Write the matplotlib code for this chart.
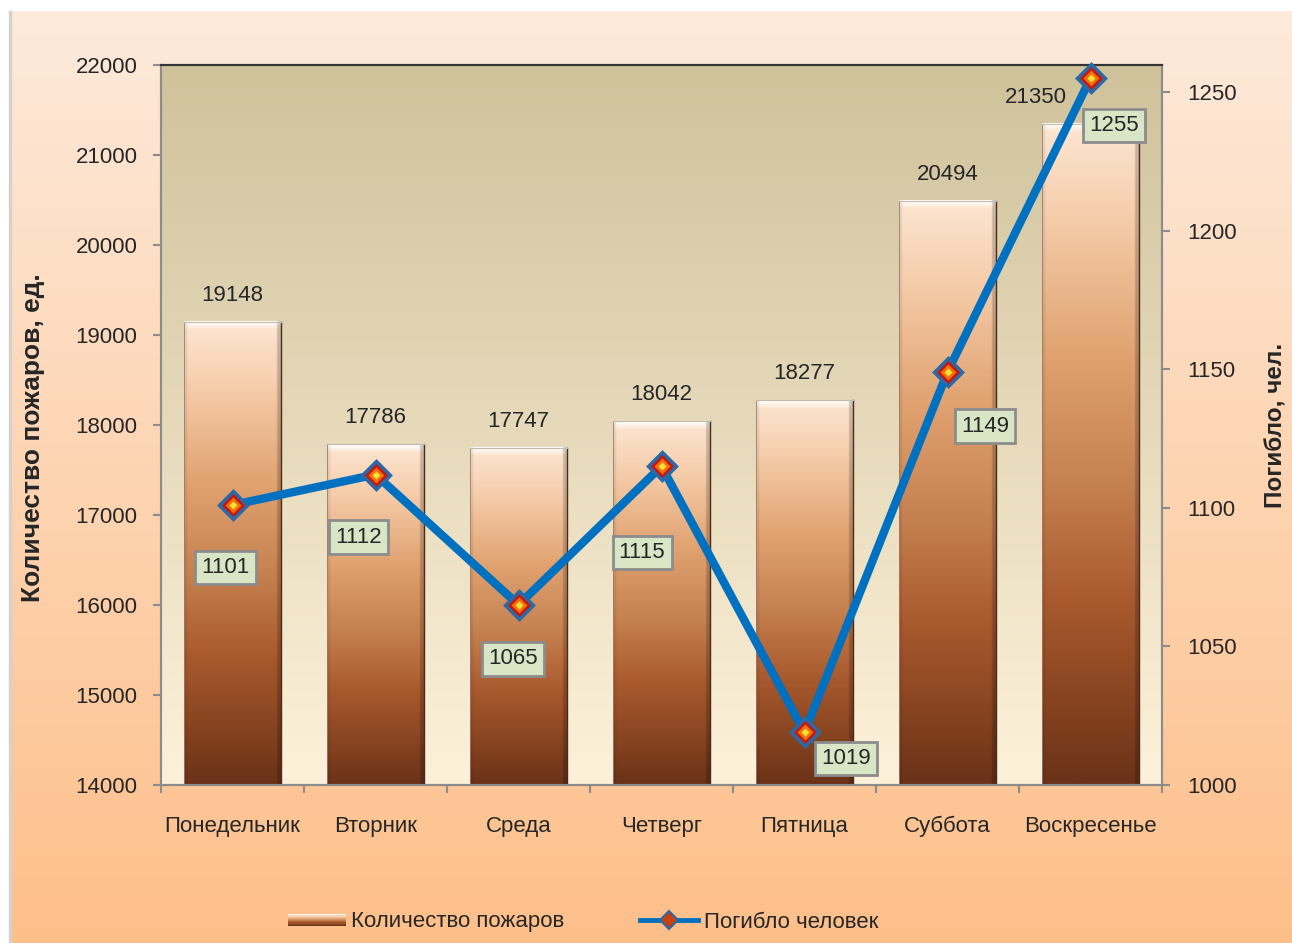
import numpy as np
import matplotlib
matplotlib.use("Agg")
import matplotlib.pyplot as plt
from matplotlib.colors import LinearSegmentedColormap, to_rgb
from matplotlib.patches import Rectangle
from matplotlib.lines import Line2D

plt.rcParams['font.family'] = ['Liberation Sans', 'DejaVu Sans']

days = ['Понедельник', 'Вторник', 'Среда', 'Четверг', 'Пятница', 'Суббота', 'Воскресенье']
fires = [19148, 17786, 17747, 18042, 18277, 20494, 21350]
deaths = [1101, 1112, 1065, 1115, 1019, 1149, 1255]

# label offsets (points) for the death labels
death_offsets = [(-5, -45), (-12, -45), (-4, -39), (-14, -62), (30, -19), (27, -39), (17, -34)]

TXT = '#262626'
BLUE = '#0070c0'
GREY = '#8c8c8c'
FS = 16

bar_cmap = LinearSegmentedColormap.from_list(
    'bar', [(0.0, '#fde6d2'), (0.15, '#f5cba8'), (0.35, '#e0a270'), (0.55, '#c5804f'),
            (0.72, '#a95a2e'), (0.88, '#864320'), (1.0, '#6a3218')])

fig = plt.figure(figsize=(12.92, 9.43), dpi=100)
fig.patch.set_facecolor('white')

# outer background gradient
bg = fig.add_axes([11 / 1292, 0, 1 - 11 / 1292, 1 - 11 / 943], zorder=-10)
g = np.linspace(0, 1, 256)[:, None]
c_top, c_bot = np.array(to_rgb('#feeadb')), np.array(to_rgb('#fdbf8a'))
bg.imshow(c_top + (c_bot - c_top) * g[:, :, None], aspect='auto', extent=[0, 1, 0, 1])
bg.axis('off')
fig.add_artist(Rectangle((9 / 1292, 0), 2 / 1292, 1 - 11 / 943, transform=fig.transFigure,
                         color='#d8d0cc', zorder=-9))

ax = fig.add_axes([161 / 1292, 1 - 785 / 943, 1001 / 1292, 720 / 943])
ax2 = ax.twinx()
ax.set_zorder(1)
ax2.set_zorder(2)
ax.patch.set_visible(False)
ax2.patch.set_visible(False)

# plot area gradient
p_top, p_bot = np.array(to_rgb('#cfc29b')), np.array(to_rgb('#fdf1da'))
ax.imshow(p_top + (p_bot - p_top) * g[:, :, None], aspect='auto', extent=[0, 1, 0, 1],
          transform=ax.transAxes, zorder=0)

ymin, ymax = 14000, 22000
x = np.arange(len(days))
bw = 0.685
for i, v in enumerate(fires):
    rows = int((v - ymin) / 10)
    frac = np.linspace(0, 1, rows)
    img = bar_cmap(frac)[:, None, :3].repeat(60, axis=1)
    # top bevel highlight
    hl = np.clip(1 - np.arange(rows) / 9.0, 0, 1)[:, None, None]
    img = img * (1 - hl) + np.array([1, 1, 1]) * hl
    # horizontal shading (darker edges)
    cols = np.linspace(0, 1, 60)
    shade = np.ones(60)
    shade[cols > 0.95] = 0.8
    shade[cols < 0.03] = 0.93
    img = np.clip(img * shade[None, :, None], 0, 1)
    ax.imshow(img, aspect='auto', extent=[i - bw / 2, i + bw / 2, ymin, v],
              interpolation='bilinear', zorder=2)
    ax.plot([i + bw / 2, i + bw / 2], [ymin, v], color='#4a2a1a', lw=1, zorder=3)
    ax.plot([i - bw / 2, i - bw / 2], [ymin, v], color='#9a7a6a', lw=0.6, zorder=3)
    ax.plot([i - bw / 2, i + bw / 2], [v, v], color='#c8b8a8', lw=0.8, zorder=3)
    off = (0, 19) if i < len(days) - 1 else (-39, 19)
    ax.annotate(str(v), (i, v), xytext=off, textcoords='offset points',
                ha='center', va='center', fontsize=FS, color=TXT, zorder=4)

ax.set_xlim(-0.5, len(days) - 0.5)
ax.set_ylim(ymin, ymax)
ax.set_yticks(range(14000, 22001, 1000))
ax.set_xticks(np.arange(-0.5, len(days)), [''] * (len(days) + 1))
ax.set_xticks(x, days, minor=True)
ax.tick_params(axis='x', which='major', length=6, width=1.5, color=GREY, direction='out')
ax.tick_params(axis='x', which='minor', length=0, pad=22, labelsize=FS, labelcolor=TXT)
ax.tick_params(axis='y', length=6, width=1.5, color=GREY, pad=11, labelsize=FS, labelcolor=TXT)
ax.set_ylabel('Количество пожаров, ед.', fontsize=19, fontweight='bold', color=TXT)
ax.yaxis.set_label_coords(-0.116, 0.483)

# deaths line
ax2.plot(x, deaths, color=BLUE, lw=6, solid_joinstyle='miter', zorder=3, clip_on=False)
ax2.plot(x, deaths, ls='none', marker='D', ms=14, mfc='#c8180c', mec='#2a6aa8', mew=2.5,
         zorder=4, clip_on=False)
ax2.plot(x, deaths, ls='none', marker='D', ms=8, mfc='#f07010', mec='none', zorder=5, clip_on=False)
ax2.plot(x, deaths, ls='none', marker='D', ms=4, mfc='#ffe030', mec='none', zorder=6, clip_on=False)
for i, (d, off) in enumerate(zip(deaths, death_offsets)):
    ax2.annotate(str(d), (i, d), xytext=off, textcoords='offset points',
                 ha='center', va='center', fontsize=FS, color=TXT, zorder=7,
                 bbox=dict(boxstyle='square,pad=0.28', fc='#d9e6c6', ec=GREY, lw=2))
ax2.set_ylim(1000, 1000 + 720 / 693 * 250)
ax2.set_yticks(range(1000, 1251, 50))
ax2.tick_params(axis='y', length=6, width=1.5, color=GREY, pad=12, labelsize=FS, labelcolor=TXT)
ax2.set_ylabel('Погибло, чел.', fontsize=17.5, fontweight='bold', color=TXT)
ax2.yaxis.set_label_coords(1.102, 0.499)

for a in (ax, ax2):
    for s in ('left', 'right', 'bottom'):
        a.spines[s].set_color(GREY)
        a.spines[s].set_linewidth(1.5)
    a.spines['top'].set_color('#333333')
    a.spines['top'].set_linewidth(1.5)


class GradBarHandler:
    def legend_artist(self, legend, orig_handle, fontsize, handlebox):
        x0, y0 = -handlebox.xdescent, -handlebox.ydescent
        w, h = handlebox.width, handlebox.height * 0.75
        y0 += handlebox.height * 0.1
        n = 10
        last = None
        for k in range(n):
            col = bar_cmap(k / (n - 1)) if k else (1, 0.98, 0.95, 1)
            r = Rectangle((x0, y0 + h * (1 - (k + 1) / n)), w, h / n, fc=col, ec='none',
                          transform=handlebox.get_transform())
            handlebox.add_artist(r)
            last = r
        return last


bar_handle = Rectangle((0, 0), 1, 1)
line_handle = Line2D([], [], color=BLUE, lw=3.5, marker='D', ms=9, mfc='#c8400c', mec='#2a6aa8', mew=1.5)
fig.legend([bar_handle, line_handle], ['Количество пожаров', 'Погибло человек'],
           handler_map={Rectangle: GradBarHandler()},
           loc='center', bbox_to_anchor=(583 / 1292, 1 - 922 / 943), ncol=2, frameon=False,
           fontsize=FS, labelcolor=TXT, handlelength=2.6, handletextpad=0.25, columnspacing=3.4)

fig.savefig('out.png', dpi=100)
